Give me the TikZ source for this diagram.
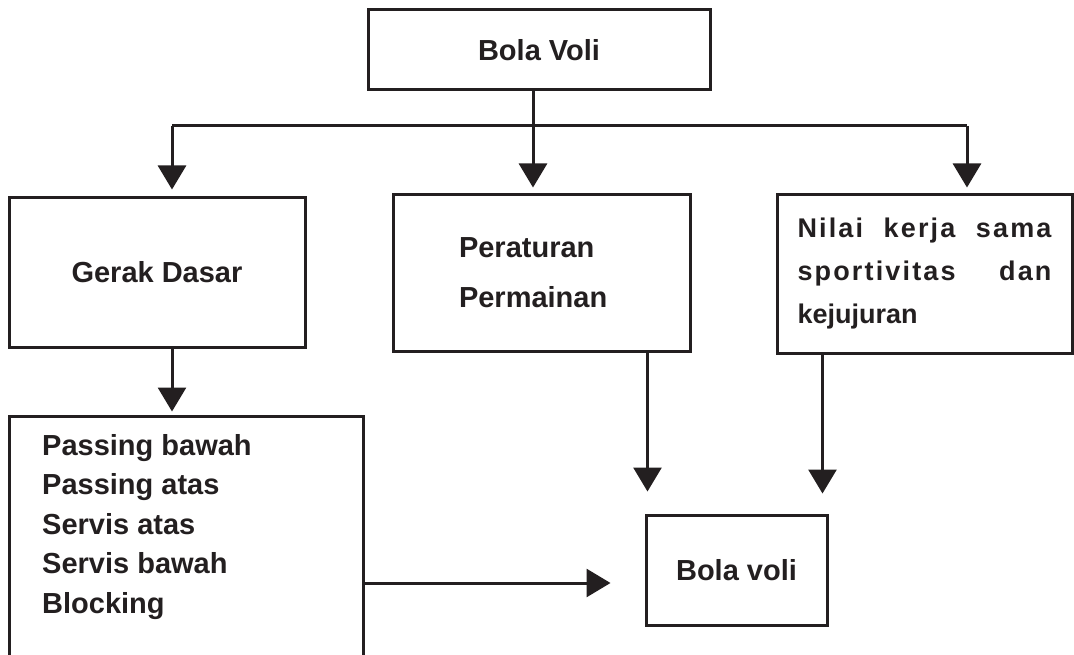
\documentclass[tikz,border=0pt]{standalone}
\usepackage{fontspec}
\setmainfont{Liberation Sans}
\newfontfamily\spacedfont[LetterSpace=8]{Liberation Sans}
\usetikzlibrary{arrows.meta}
\definecolor{ink}{HTML}{231F20}

\begin{document}
\begin{tikzpicture}[x=1pt,y=-1pt]
		\newcommand{\lw}{3pt} % thickness of boxes and lines
		\newcommand{\fs}{\fontsize{29}{39.5}\selectfont\bfseries}

		% set the styles of the boxes and the arrows
		\tikzset{
			box/.style={
				draw=ink,
				line width=\lw,
				text=ink,
				font=\fs,
				inner sep=0pt
				},
			line/.style={
				draw=ink,
				line width=\lw
				},
			arr/.style={
				line,
				-{Triangle[width=28pt,length=24pt]}
				}
		}

		\useasboundingbox (0,0) rectangle (1074,655);
		\clip (0,0) rectangle (1074,655);

		% boxes
		\node[box, minimum width=342pt, minimum height=80pt] (judul) at (539,50) {Bola Voli};
		\node[box, minimum width=296pt, minimum height=149pt] (gerak) at (157,272.5) {Gerak Dasar};
		\node[box, minimum width=297pt, minimum height=156pt, text width=165pt, align=left,
			font=\fontsize{29}{50}\selectfont\bfseries] (aturan) at (541.5,273) {Peraturan\\Permainan};
		\node[box, minimum width=295pt, minimum height=158pt, text width=254pt, align=left,
			font=\fontsize{27}{43}\selectfont\bfseries] (nilai) at (924.5,274)
			{\makebox[254pt]{\spacedfont Nilai\hfill kerja\hfill sama}\\
			 \makebox[254pt]{\spacedfont sportivitas\hfill dan}\\
			 kejujuran};
		\node[box, minimum width=354pt, minimum height=250pt] (teknik) at (186,541) {};
		\node[anchor=west, align=left, text=ink, font=\fs, inner sep=0pt] (daftar) at (42,527)
			{Passing bawah\\Passing atas\\Servis atas\\Servis bawah\\Blocking};
		\node[box, minimum width=181pt, minimum height=110pt] (hasil) at (736.5,570) {Bola voli};

		% branching under the title
		\coordinate (kiri) at (172,126);
		\coordinate (tengah) at (533,126);
		\coordinate (kanan) at (967,126);
		\draw[line] (judul.south -| tengah) -- (tengah);
		\draw[line] (kiri) -- (kanan);
		\draw[arr, shorten >=7pt] (kiri) -- (kiri |- gerak.north);
		\draw[arr, shorten >=6pt] (tengah) -- (tengah |- aturan.north);
		\draw[arr, shorten >=6pt] (kanan) -- (kanan |- nilai.north);

		% lower arrows
		\draw[arr, shorten >=3pt] (gerak.south -| kiri) -- (teknik.north -| kiri);
		\draw[arr, shorten >=22pt] ([xshift=3pt]hasil.north west |- aturan.south) -- ([xshift=3pt]hasil.north west);
		\draw[arr, shorten >=20pt] ([xshift=-6pt]hasil.north east |- nilai.south) -- ([xshift=-6pt]hasil.north east);
		\draw[arr, shorten >=34pt] ([yshift=-13pt]hasil.west -| teknik.east) -- ([yshift=-13pt]hasil.west);
\end{tikzpicture}
\end{document}
